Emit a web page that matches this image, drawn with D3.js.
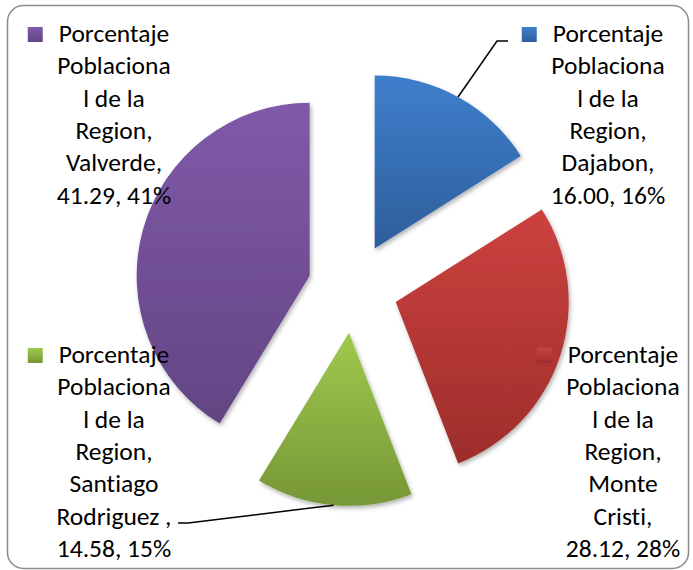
<!DOCTYPE html>
<html>
<head>
<meta charset="utf-8">
<script src="https://cdnjs.cloudflare.com/ajax/libs/d3/7.8.5/d3.min.js"></script>
<style>
  body { margin: 0; background: #fff; }
  text { font-family: Carlito, Calibri, Lato, "Open Sans", sans-serif; font-variant-ligatures: none; }
</style>
</head>
<body>
<svg></svg>
<script>
window.onload = function() {

    // data
    const seriesName = "Porcentaje Poblacional de la Region";
    const categories = ["Dajabon", "Monte Cristi", "Santiago Rodriguez ", "Valverde"];
    const values = [16.00, 28.12, 14.58, 41.29];
    const seriesLines = ["Porcentaje", "Poblaciona", "l de la", "Region,"];
    const categoryLines = [["Dajabon,"], ["Monte", "Cristi,"], ["Santiago", "Rodriguez ,"], ["Valverde,"]];
    const colorsTop = ["#3e7fcc", "#cc423e", "#9fc94d", "#805aa9"];
    const colorsBottom = ["#2e5e9b", "#9d2d2b", "#769736", "#634583"];

    const width = 693, height = 570;
    const svg = d3.select("svg")
        .attr("width", width)
        .attr("height", height);

    const defs = svg.append("defs");
    colorsTop.forEach(function(c, i) {
        const g = defs.append("linearGradient")
            .attr("id", "grad" + i)
            .attr("x1", 0).attr("y1", 0).attr("x2", 0).attr("y2", 1);
        g.append("stop").attr("offset", "0%").attr("stop-color", c);
        g.append("stop").attr("offset", "100%").attr("stop-color", colorsBottom[i]);
    });
    const shadow = defs.append("filter").attr("id", "shadow")
        .attr("x", "-10%").attr("y", "-10%").attr("width", "130%").attr("height", "130%");
    shadow.append("feDropShadow")
        .attr("dx", 1.5).attr("dy", 2.5).attr("stdDeviation", 2)
        .attr("flood-color", "#000").attr("flood-opacity", 0.3);

    // chart frame
    svg.append("rect")
        .attr("x", 7.5).attr("y", 5.5)
        .attr("width", 681).attr("height", 563)
        .attr("rx", 16)
        .attr("fill", "#fff")
        .attr("stroke", "#8c8c8c")
        .attr("stroke-width", 1.5);

    const cx = 353, cy = 288, radius = 173, explode = 45;

    const pie = d3.pie().sort(null).value(function(d) { return d; });
    const arcs = pie(values);
    const arc = d3.arc().innerRadius(0).outerRadius(radius);

    function offset(d) {
        const a = (d.startAngle + d.endAngle) / 2;
        return [explode * Math.sin(a), -explode * Math.cos(a)];
    }

    const slices = svg.append("g")
        .attr("transform", "translate(" + cx + "," + cy + ")");

    slices.selectAll("path")
        .data(arcs)
        .join("path")
        .attr("transform", function(d) {
            const o = offset(d);
            return "translate(" + o[0] + "," + o[1] + ")";
        })
        .attr("d", arc)
        .attr("fill", function(d, i) { return "url(#grad" + i + ")"; })
        .attr("filter", "url(#shadow)");

    // label layout (centre x, first baseline y)
    const labelPos = [[608, 42], [623, 363], [114, 363], [114, 42]];
    const lineH = 32.3;
    const total = d3.sum(values);

    // leader lines for the two labels that sit away from their slice
    const leaderEnds = { 0: [[497, 41], [508, 41]], 2: [[188, 523], [178, 523]] };
    Object.keys(leaderEnds).forEach(function(k) {
        const d = arcs[k];
        const o = offset(d);
        const a = (d.startAngle + d.endAngle) / 2;
        const p0 = [cx + o[0] + radius * Math.sin(a), cy + o[1] - radius * Math.cos(a)];
        svg.append("path")
            .attr("d", d3.line()([p0].concat(leaderEnds[k])))
            .attr("fill", "none")
            .attr("stroke", "#000")
            .attr("stroke-width", 1.5);
    });

    const labels = svg.append("g");
    categories.forEach(function(cat, i) {
        const lines = seriesLines
            .concat(categoryLines[i])
            .concat([d3.format(".2f")(values[i]) + ", " + Math.round(values[i] / total * 100) + "%"]);
        const g = labels.append("g");
        const t = g.append("text")
            .attr("text-anchor", "middle")
            .attr("font-size", 25.5)
            .attr("fill", "#000");
        lines.forEach(function(l, j) {
            t.append("tspan")
                .attr("x", labelPos[i][0])
                .attr("y", labelPos[i][1] + j * lineH)
                .text(l);
        });
        const firstW = t.select("tspan").node().getComputedTextLength();
        const left = labelPos[i][0] - firstW / 2;
        g.insert("rect", "text")
            .attr("x", left - 31)
            .attr("y", labelPos[i][1] - 15)
            .attr("width", 15)
            .attr("height", 15)
            .attr("fill", "url(#grad" + i + ")");
    });
};
</script>
</body>
</html>
